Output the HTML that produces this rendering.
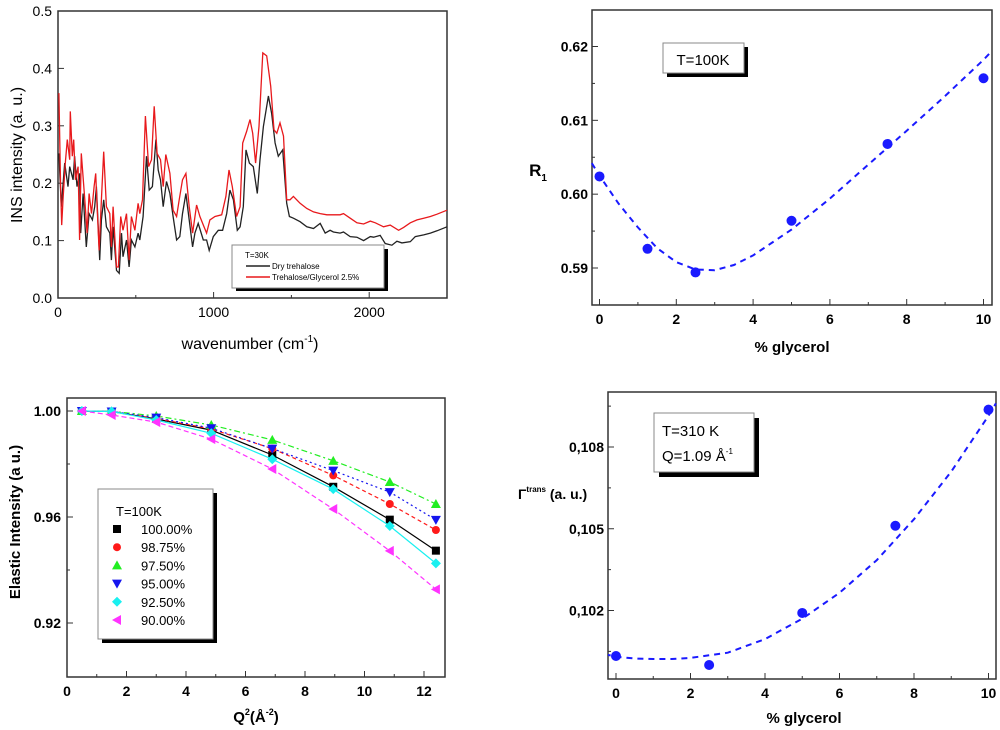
<!DOCTYPE html>
<html><head><meta charset="utf-8"><style>
body{margin:0;background:#fff;}
svg{display:block;font-family:"Liberation Sans",sans-serif;}
</style></head><body>
<svg id="fig" width="1000" height="730" viewBox="0 0 1000 730" xmlns="http://www.w3.org/2000/svg"></svg>
<script>
// ---------- Panel A: INS spectrum ----------
const insBlackX=[6,21,43,64,75,97,107,122,139,146,161,182,200,221,236,247,268,279,294,311,333,343,354,376,393,408,418,440,457,472,494,515,526,547,569,586,607,629,644,659,676,697,719,740,762,783,800,822,843,865,880,901,934,955,972,998,1030,1058,1084,1105,1127,1152,1170,1191,1208,1230,1255,1281,1298,1320,1352,1373,1395,1416,1444,1470,1487,1513,1556,1599,1642,1685,1717,1749,1770,1813,1835,1878,1921,1964,2007,2028,2071,2103,2146,2178,2210,2264,2296,2350,2393,2436,2500];
const insBlackY=[0.252,0.159,0.235,0.194,0.229,0.206,0.247,0.194,0.217,0.113,0.182,0.089,0.147,0.136,0.159,0.194,0.066,0.136,0.171,0.124,0.113,0.066,0.124,0.048,0.043,0.113,0.072,0.101,0.054,0.101,0.089,0.113,0.101,0.142,0.247,0.188,0.194,0.276,0.223,0.206,0.159,0.203,0.182,0.142,0.101,0.107,0.147,0.182,0.136,0.089,0.113,0.130,0.101,0.101,0.083,0.107,0.118,0.118,0.147,0.188,0.171,0.118,0.124,0.159,0.258,0.235,0.229,0.182,0.241,0.299,0.352,0.322,0.270,0.247,0.258,0.165,0.142,0.139,0.133,0.124,0.121,0.130,0.113,0.118,0.115,0.113,0.115,0.107,0.106,0.100,0.107,0.106,0.109,0.095,0.092,0.099,0.096,0.098,0.107,0.110,0.113,0.117,0.124];
const insRedX=[6,17,24,32,47,60,75,79,92,101,112,129,139,150,172,187,200,215,232,242,251,264,279,294,311,333,343,354,376,388,403,418,440,457,472,494,515,526,543,562,582,601,618,637,659,676,693,719,740,762,779,800,822,843,865,891,912,938,955,976,1009,1052,1079,1099,1120,1148,1170,1187,1212,1234,1251,1270,1292,1316,1341,1367,1388,1406,1427,1449,1470,1491,1513,1556,1599,1642,1685,1728,1770,1813,1835,1878,1921,1964,2007,2039,2092,2135,2189,2221,2264,2307,2350,2393,2436,2500];
const insRedY=[0.357,0.194,0.127,0.171,0.235,0.276,0.241,0.325,0.247,0.276,0.206,0.229,0.101,0.252,0.171,0.113,0.182,0.147,0.194,0.217,0.159,0.083,0.171,0.255,0.159,0.147,0.089,0.159,0.054,0.054,0.142,0.118,0.147,0.066,0.142,0.118,0.165,0.147,0.171,0.317,0.229,0.241,0.334,0.252,0.241,0.194,0.250,0.217,0.153,0.142,0.171,0.206,0.217,0.159,0.113,0.162,0.142,0.124,0.113,0.136,0.142,0.145,0.177,0.223,0.194,0.142,0.159,0.270,0.290,0.311,0.287,0.235,0.299,0.427,0.422,0.369,0.293,0.287,0.305,0.282,0.171,0.171,0.177,0.165,0.156,0.150,0.147,0.145,0.145,0.145,0.147,0.139,0.131,0.129,0.134,0.131,0.124,0.127,0.118,0.123,0.131,0.136,0.139,0.142,0.146,0.153];
const insXTicks=[0,1000,2000];
const insYTicks=[0.0,0.1,0.2,0.3,0.4,0.5];
// ---------- Panel B: R1 ----------
const r1X=[0,1.25,2.5,5,7.5,10];
const r1Y=[0.6024,0.5926,0.5894,0.5964,0.6068,0.6157];
const r1FitX=[-0.2,0,0.5,1,1.5,2,2.5,3,3.5,4,5,6,7,8,9,10,10.2];
const r1FitY=[0.6042,0.6025,0.5987,0.5955,0.5927,0.5908,0.5898,0.5897,0.5904,0.5917,0.5952,0.5994,0.6040,0.6086,0.6133,0.6182,0.6193];
const r1XTicks=[0,2,4,6,8,10];
const r1YTicks=[0.59,0.60,0.61,0.62];
// ---------- Panel C: elastic intensity ----------
const elQ=[0.5,1.5,3.0,4.85,6.9,8.95,10.85,12.4];
const el100=[1.0,0.9998,0.9970,0.9928,0.9834,0.9714,0.9590,0.9473];
const el9875=[1.0,0.9998,0.9972,0.9932,0.9858,0.9757,0.9649,0.9551];
const el975=[1.0,0.9999,0.9981,0.9947,0.9891,0.9812,0.9732,0.9649];
const el95=[1.0,0.9998,0.9975,0.9935,0.9858,0.9775,0.9694,0.9589];
const el925=[1.0,0.9998,0.9966,0.9916,0.9818,0.9705,0.9566,0.9425];
const el90=[1.0,0.9985,0.9958,0.9894,0.9781,0.9630,0.9472,0.9327];
const elLabels=["100.00%","98.75%","97.50%","95.00%","92.50%","90.00%"];
const elXTicks=[0,2,4,6,8,10,12];
const elYTicks=[0.92,0.96,1.00];
// ---------- Panel D: Gamma trans ----------
const gX=[0,2.5,5,7.5,10];
const gY=[0.10033,0.1000,0.10191,0.10511,0.10937];
const gFitX=[-0.3,0,0.5,1,1.5,2,3,4,5,6,7,8,9,10,10.2];
const gFitY=[0.10040,0.10030,0.10024,0.10022,0.10022,0.10026,0.10045,0.10095,0.10170,0.10265,0.10385,0.10535,0.10710,0.10915,0.10960];
const gXTicks=[0,2,4,6,8,10];
const gYTicks=[0.102,0.105,0.108];

const NS="http://www.w3.org/2000/svg";
const svg=document.getElementById('fig');
function mk(tag,attrs,parent){const e=document.createElementNS(NS,tag);for(const k in attrs)e.setAttribute(k,attrs[k]);(parent||svg).appendChild(e);return e;}
function txt(s,x,y,size,opts,parent){opts=opts||{};const t=mk('text',{x:x,y:y,'font-size':size,'text-anchor':opts.anchor||'middle',fill:opts.fill||'#000','font-weight':opts.bold?'bold':'normal'},parent);if(opts.rot)t.setAttribute('transform','rotate(-90 '+x+' '+y+')');t.innerHTML=s;return t;}
function lin(d0,d1,p0,p1){return v=>p0+(v-d0)*(p1-p0)/(d1-d0);}
function pathD(xs,ys,sx,sy){return xs.map((v,i)=>(i?'L':'M')+sx(v).toFixed(1)+','+sy(ys[i]).toFixed(1)).join(' ');}
function frame(g,x0,y0,x1,y1){mk('rect',{x:x0,y:y0,width:x1-x0,height:y1-y0,fill:'none',stroke:'#333','stroke-width':1.5},g);}

// Panel A
{
const g=mk('g',{});
const sx=lin(0,2500,58,447), sy=lin(0,0.5,298,11);
frame(g,58,11,447,298);
insXTicks.forEach(v=>{mk('line',{x1:sx(v),x2:sx(v),y1:298,y2:292,stroke:'#333'},g);const t=txt(v,sx(v),317,14,{},g);});
[500,1500].forEach(v=>mk('line',{x1:sx(v),x2:sx(v),y1:298,y2:295,stroke:'#333'},g));
insYTicks.forEach(v=>{mk('line',{x1:58,x2:64,y1:sy(v),y2:sy(v),stroke:'#333'},g);const t=txt(v.toFixed(1),52,sy(v)+5,14,{anchor:'end'},g);});
const lb=mk('path',{d:pathD(insBlackX,insBlackY,sx,sy),fill:'none',stroke:'#222','stroke-width':1.3},g);

const lr=mk('path',{d:pathD(insRedX,insRedY,sx,sy),fill:'none',stroke:'#e8191c','stroke-width':1.3},g);

const yl=txt('INS intensity (a. u.)',22,155,16,{rot:true},g);
const xl=txt('wavenumber (cm<tspan font-size="10" dy="-7">-1</tspan><tspan dy="7">)</tspan>',250,349,16,{},g);
const lg=mk('g',{},g);
mk('rect',{x:236,y:249,width:152,height:42,fill:'#000'},lg);
mk('rect',{x:232,y:245,width:152,height:43,fill:'#fff',stroke:'#888'},lg);
txt('T=30K',245,258,8,{anchor:'start'},lg);
mk('line',{x1:246,x2:270,y1:266,y2:266,stroke:'#222','stroke-width':1.5},lg);
txt('Dry trehalose',272,269,8,{anchor:'start'},lg);
mk('line',{x1:246,x2:270,y1:277,y2:277,stroke:'#e8191c','stroke-width':1.5},lg);
txt('Trehalose/Glycerol 2.5%',272,280,8,{anchor:'start'},lg);
}

// Panel B
{
const g=mk('g',{});
const sx=lin(0,10,599.5,983.5), sy=lin(0.59,0.62,268,46.5);
frame(g,592,10,992,305);
r1XTicks.forEach(v=>{mk('line',{x1:sx(v),x2:sx(v),y1:305,y2:299,stroke:'#333'},g);const t=txt(v,sx(v),324,14,{bold:true},g);});
[1,3,5,7,9].forEach(v=>mk('line',{x1:sx(v),x2:sx(v),y1:305,y2:302,stroke:'#333'},g));
r1YTicks.forEach(v=>{mk('line',{x1:592,x2:598,y1:sy(v),y2:sy(v),stroke:'#333'},g);const t=txt(v.toFixed(2),588,sy(v)+5,14,{anchor:'end',bold:true},g);});
[0.595,0.605,0.615].forEach(v=>mk('line',{x1:592,x2:595,y1:sy(v),y2:sy(v),stroke:'#333'},g));
const f=mk('path',{d:pathD(r1FitX,r1FitY,sx,sy),fill:'none',stroke:'#1a1aff','stroke-width':2,'stroke-dasharray':'6,5'},g);

r1X.forEach((v,i)=>{const c=mk('circle',{cx:sx(v),cy:sy(r1Y[i]),r:5,fill:'#1a1aff'},g);});
const yl=txt('R<tspan font-size="10" dy="5">1</tspan>',538,176,17,{bold:true},g);
const xl=txt('% glycerol',792,352,15,{bold:true},g);
const ib=mk('g',{},g);
mk('rect',{x:667,y:47,width:81,height:30,fill:'#000'},ib);
mk('rect',{x:663,y:43,width:81,height:30,fill:'#fff',stroke:'#888'},ib);
txt('T=100K',703,65,15,{},ib);
}

// Panel C
{
const g=mk('g',{});
const sx=lin(0,12,67,424), sy=lin(0.92,1.0,623,411);
frame(g,67,398,445,677);
elXTicks.forEach(v=>{mk('line',{x1:sx(v),x2:sx(v),y1:677,y2:671,stroke:'#333'},g);const t=txt(v,sx(v),696,14,{bold:true},g);});
[1,3,5,7,9,11].forEach(v=>mk('line',{x1:sx(v),x2:sx(v),y1:677,y2:674,stroke:'#333'},g));
elYTicks.forEach(v=>{mk('line',{x1:67,x2:73,y1:sy(v),y2:sy(v),stroke:'#333'},g);const t=txt(v.toFixed(2),61,sy(v)+5,14,{anchor:'end',bold:true},g);});
[0.94,0.98].forEach(v=>mk('line',{x1:67,x2:70,y1:sy(v),y2:sy(v),stroke:'#333'},g));
const series=[el100,el9875,el975,el95,el925,el90];
const cols=['#000','#ff1a1a','#22ee22','#1515ee','#19f0f0','#ff33ff'];
const dash=['none','4,3','6,3,2,3','2,3','none','5,3'];
const marker=(i,x,y,s,p)=>{let e;
 if(i==0)e=mk('rect',{x:x-s,y:y-s,width:2*s,height:2*s,fill:cols[i]},p);
 else if(i==1)e=mk('circle',{cx:x,cy:y,r:s,fill:cols[i]},p);
 else if(i==2)e=mk('polygon',{points:`${x},${y-s-1} ${x-s-1},${y+s} ${x+s+1},${y+s}`,fill:cols[i]},p);
 else if(i==3)e=mk('polygon',{points:`${x},${y+s+1} ${x-s-1},${y-s} ${x+s+1},${y-s}`,fill:cols[i]},p);
 else if(i==4)e=mk('polygon',{points:`${x},${y-s-1} ${x+s+1},${y} ${x},${y+s+1} ${x-s-1},${y}`,fill:cols[i]},p);
 else e=mk('polygon',{points:`${x-s-1},${y} ${x+s},${y-s-1} ${x+s},${y+s+1}`,fill:cols[i]},p);
 return e;};
series.forEach((ys,i)=>{
 const l=mk('path',{d:pathD(elQ,ys,sx,sy),fill:'none',stroke:cols[i],'stroke-width':1.2},g);
 if(dash[i]!='none')l.setAttribute('stroke-dasharray',dash[i]);
 
 elQ.forEach((q,j)=>{const m=marker(i,sx(q),sy(ys[j]),4,g);});
});
const lg=mk('g',{},g);
mk('rect',{x:102,y:493,width:115,height:150,fill:'#000'},lg);
mk('rect',{x:98,y:489,width:115,height:150,fill:'#fff',stroke:'#888'},lg);
txt('T=100K',116,516,13,{anchor:'start'},lg);
elLabels.forEach((s,i)=>{const y=529+i*18.2;marker(i,117,y,4,lg);txt(s,141,y+5,13,{anchor:'start'},lg);});
const yl=txt('Elastic Intensity (a u.)',20,522,15,{rot:true,bold:true},g);
const xl=txt('Q<tspan font-size="9" dy="-7">2</tspan><tspan dy="7">(Å</tspan><tspan font-size="9" dy="-7">-2</tspan><tspan dy="7">)</tspan>',256,722,15,{bold:true},g);
}

// Panel D
{
const g=mk('g',{});
const sx=lin(0,10,616,988.5), sy=lin(0.102,0.108,610.5,447);
frame(g,608,392,996,679);
gXTicks.forEach(v=>{mk('line',{x1:sx(v),x2:sx(v),y1:679,y2:673,stroke:'#333'},g);const t=txt(v,sx(v),698,14,{bold:true},g);});
[1,3,5,7,9].forEach(v=>mk('line',{x1:sx(v),x2:sx(v),y1:679,y2:676,stroke:'#333'},g));
gYTicks.forEach(v=>{mk('line',{x1:608,x2:614,y1:sy(v),y2:sy(v),stroke:'#333'},g);const t=txt(v.toFixed(3).replace('.',','),604,sy(v)+5,14,{anchor:'end',bold:true},g);});
[0.1005,0.1035,0.1065,0.1095].forEach(v=>mk('line',{x1:608,x2:611,y1:sy(v),y2:sy(v),stroke:'#333'},g));
const cp=mk('clipPath',{id:'cd'},g);mk('rect',{x:608,y:392,width:392,height:287},cp);
const f=mk('path',{d:pathD(gFitX,gFitY,sx,sy),fill:'none',stroke:'#1a1aff','stroke-width':2,'stroke-dasharray':'6,5','clip-path':'url(#cd)'},g);

gX.forEach((v,i)=>{const c=mk('circle',{cx:sx(v),cy:sy(gY[i]),r:5,fill:'#1a1aff'},g);});
const yl=txt('Γ<tspan font-size="8" dy="-7">trans</tspan><tspan dy="7"> (a. u.)</tspan>',518,499,14,{anchor:'start',bold:true},g);
const xl=txt('% glycerol',804,723,15,{bold:true},g);
const ib=mk('g',{},g);
mk('rect',{x:659,y:418,width:100,height:59,fill:'#000'},ib);
mk('rect',{x:654,y:413,width:100,height:59,fill:'#fff',stroke:'#888'},ib);
txt('T=310 K',662,436,15,{anchor:'start'},ib);
txt('Q=1.09 Å<tspan font-size="8" dy="-7">-1</tspan>',662,461,15,{anchor:'start'},ib);
}
</script>
</body></html>
